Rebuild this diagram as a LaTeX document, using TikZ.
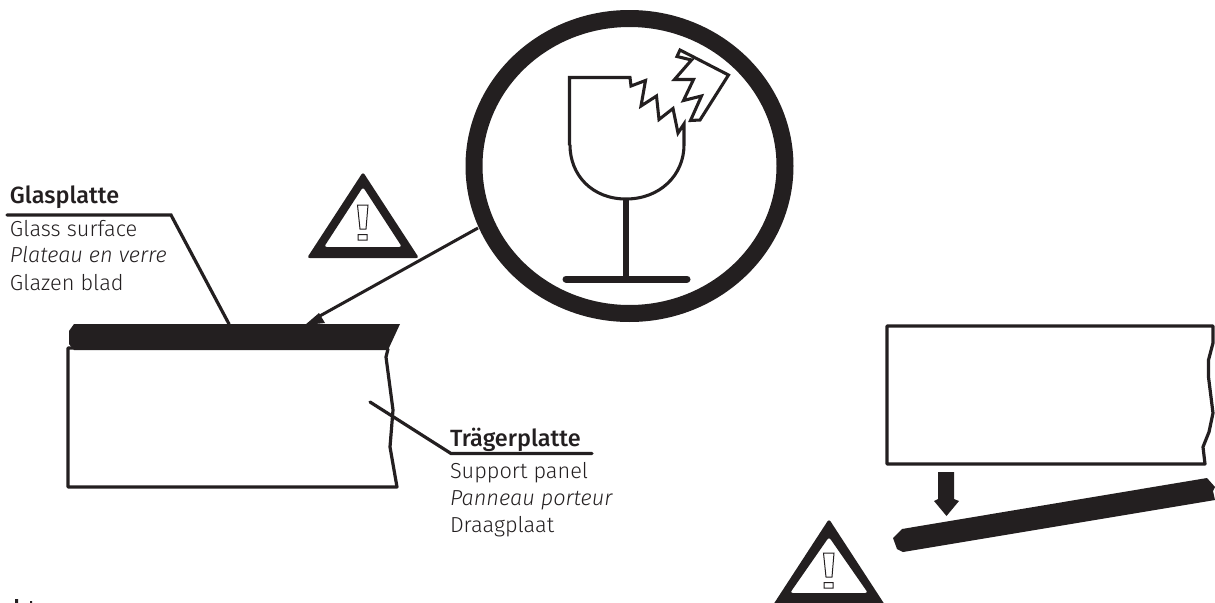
\documentclass[tikz,border=0pt]{standalone}
\usepackage{fontspec}
\setmainfont{Fira Sans Light}[BoldFont={Fira Sans Medium},ItalicFont={Fira Sans Light Italic}]
\definecolor{ink}{HTML}{231F20}
\tikzset{
  px/.style={x=0.75pt,y=-0.75pt},
  thick line/.style={draw=ink,line width=2.4pt,line join=round,line cap=round},
  thin line/.style={draw=ink,line width=2.3pt,line join=miter},
  label/.style={anchor=base west,inner sep=0pt,outer sep=0pt,font=\fontsize{16.3pt}{20pt}\selectfont,text=ink},
  title/.style={anchor=base west,inner sep=0pt,outer sep=0pt,font=\fontsize{17.6pt}{20pt}\selectfont\bfseries,text=ink}
}
\begin{document}
\begin{tikzpicture}[px]
\useasboundingbox (0,0) rectangle (1215,603);
% circle
\coordinate (cc) at (629.5,166);
\fill[ink,even odd rule] (cc) ellipse [x radius=164,y radius=156] (cc) ellipse [x radius=147,y radius=139];
% glass
\draw[thin line] (569.5,145) -- (569.5,77.5) -- (630,77.5) -- (631,86) -- (645.5,80.5) -- (641,106) -- (656.5,96) -- (659,119.5) -- (673,108.5) -- (678,133) -- (684,124) -- (684,145)
  .. controls (684,175) and (660,199) .. (626,199) .. controls (592,199) and (570,175) .. (570,145);
\draw[thin line] (680,50) -- (728.5,75) -- (700,120) -- (690.5,120.5) -- (701.5,96) -- (683.5,100.5) -- (693.5,79.5) -- (674.5,79.5) -- (691.5,60) -- (677,56.5) -- cycle;
\draw[ink,line width=4pt] (626,199) -- (626,279);
\draw[ink,line width=5.25pt,line cap=round] (566,279) -- (687,279);
% triangles
\fill[ink,even odd rule,rounded corners=2pt] (363,172) -- (419,258) -- (307,258) -- cycle (363,187) -- (402,247) -- (324,247) -- cycle;
\draw[ink,line width=0.75pt] (357.5,205) -- (368,205) -- (366,229) -- (360,229) -- cycle (358,234.5) rectangle (367,240);
\fill[ink,even odd rule,rounded corners=2pt] (829,519) -- (885,605) -- (773,605) -- cycle (829,537) -- (868,593) -- (790,593) -- cycle;
\draw[ink,line width=0.75pt] (823.5,553) -- (834,553) -- (832,577) -- (826,577) -- cycle (824,582.5) rectangle (833,588);
% glass slab left
\fill[ink] (74,324) -- (400,324) -- (388,350) -- (74,350) -- (69,344) -- (69,331) -- cycle;
% support panel left
\draw[thick line] (388,349) -- (386,357) -- (393,410) -- (390,447) -- (397,487) -- (68,487) -- (68,348) -- (76,348);
% leaders
\coordinate (gl0) at (7,215); \coordinate (gl1) at (171,215); \coordinate (gl2) at (229,324);
\draw[ink,line width=2.4pt,line cap=round] (gl0) -- (gl1) -- (gl2);
\coordinate (tr0) at (370,402); \coordinate (tr1) at (451,453.5); \coordinate (tr2) at (592,453.5);
\draw[ink,line width=2.4pt,line cap=round] (tr0) -- (tr1) -- (tr2);
% arrow to slab
\coordinate (ar0) at (478,228); \coordinate (ar1) at (318,317);
\draw[ink,line width=2.25pt] (ar0) -- (ar1);
\fill[ink] (305,325) -- (319,313) -- (325,323) -- cycle;
% labels
\node[title] (glt) at (10,203) {Glasplatte};
\node[label] (gl1t) at (10,236) {Glass surface};
\node[label] (gl2t) at (10,262) {\itshape Plateau en verre};
\node[label] (gl3t) at (10,290) {Glazen blad};
\node[title] (trt) at (450,446) {Trägerplatte};
\node[label] (tr1t) at (450,478) {Support panel};
\node[label] (tr2t) at (450,505) {\itshape Panneau porteur};
\node[label] (tr3t) at (450,532) {Draagplaat};
% right panel
\draw[thick line] (1213,326) -- (887,326) -- (887,464) -- (1205,464) -- (1203,447) -- (1209,432) -- (1213,413) -- (1208.5,377) -- (1208.5,360) -- (1213,343) -- cycle;
% down arrow
\fill[ink] (938,472) -- (954,472) -- (954,499) -- (959,501) -- (946.5,516) -- (934,501) -- (938,499) -- cycle;
% tilted slab
\fill[ink] (902,529) -- (1207,478) -- (1215,487) -- (1213,491) -- (1215,500) -- (903,552) -- (897,549) -- (893,538) -- cycle;
% fragments at the bottom edge
\fill[ink] (15,599) rectangle (18,603) (30,601) rectangle (32,603);
\end{tikzpicture}
\end{document}
